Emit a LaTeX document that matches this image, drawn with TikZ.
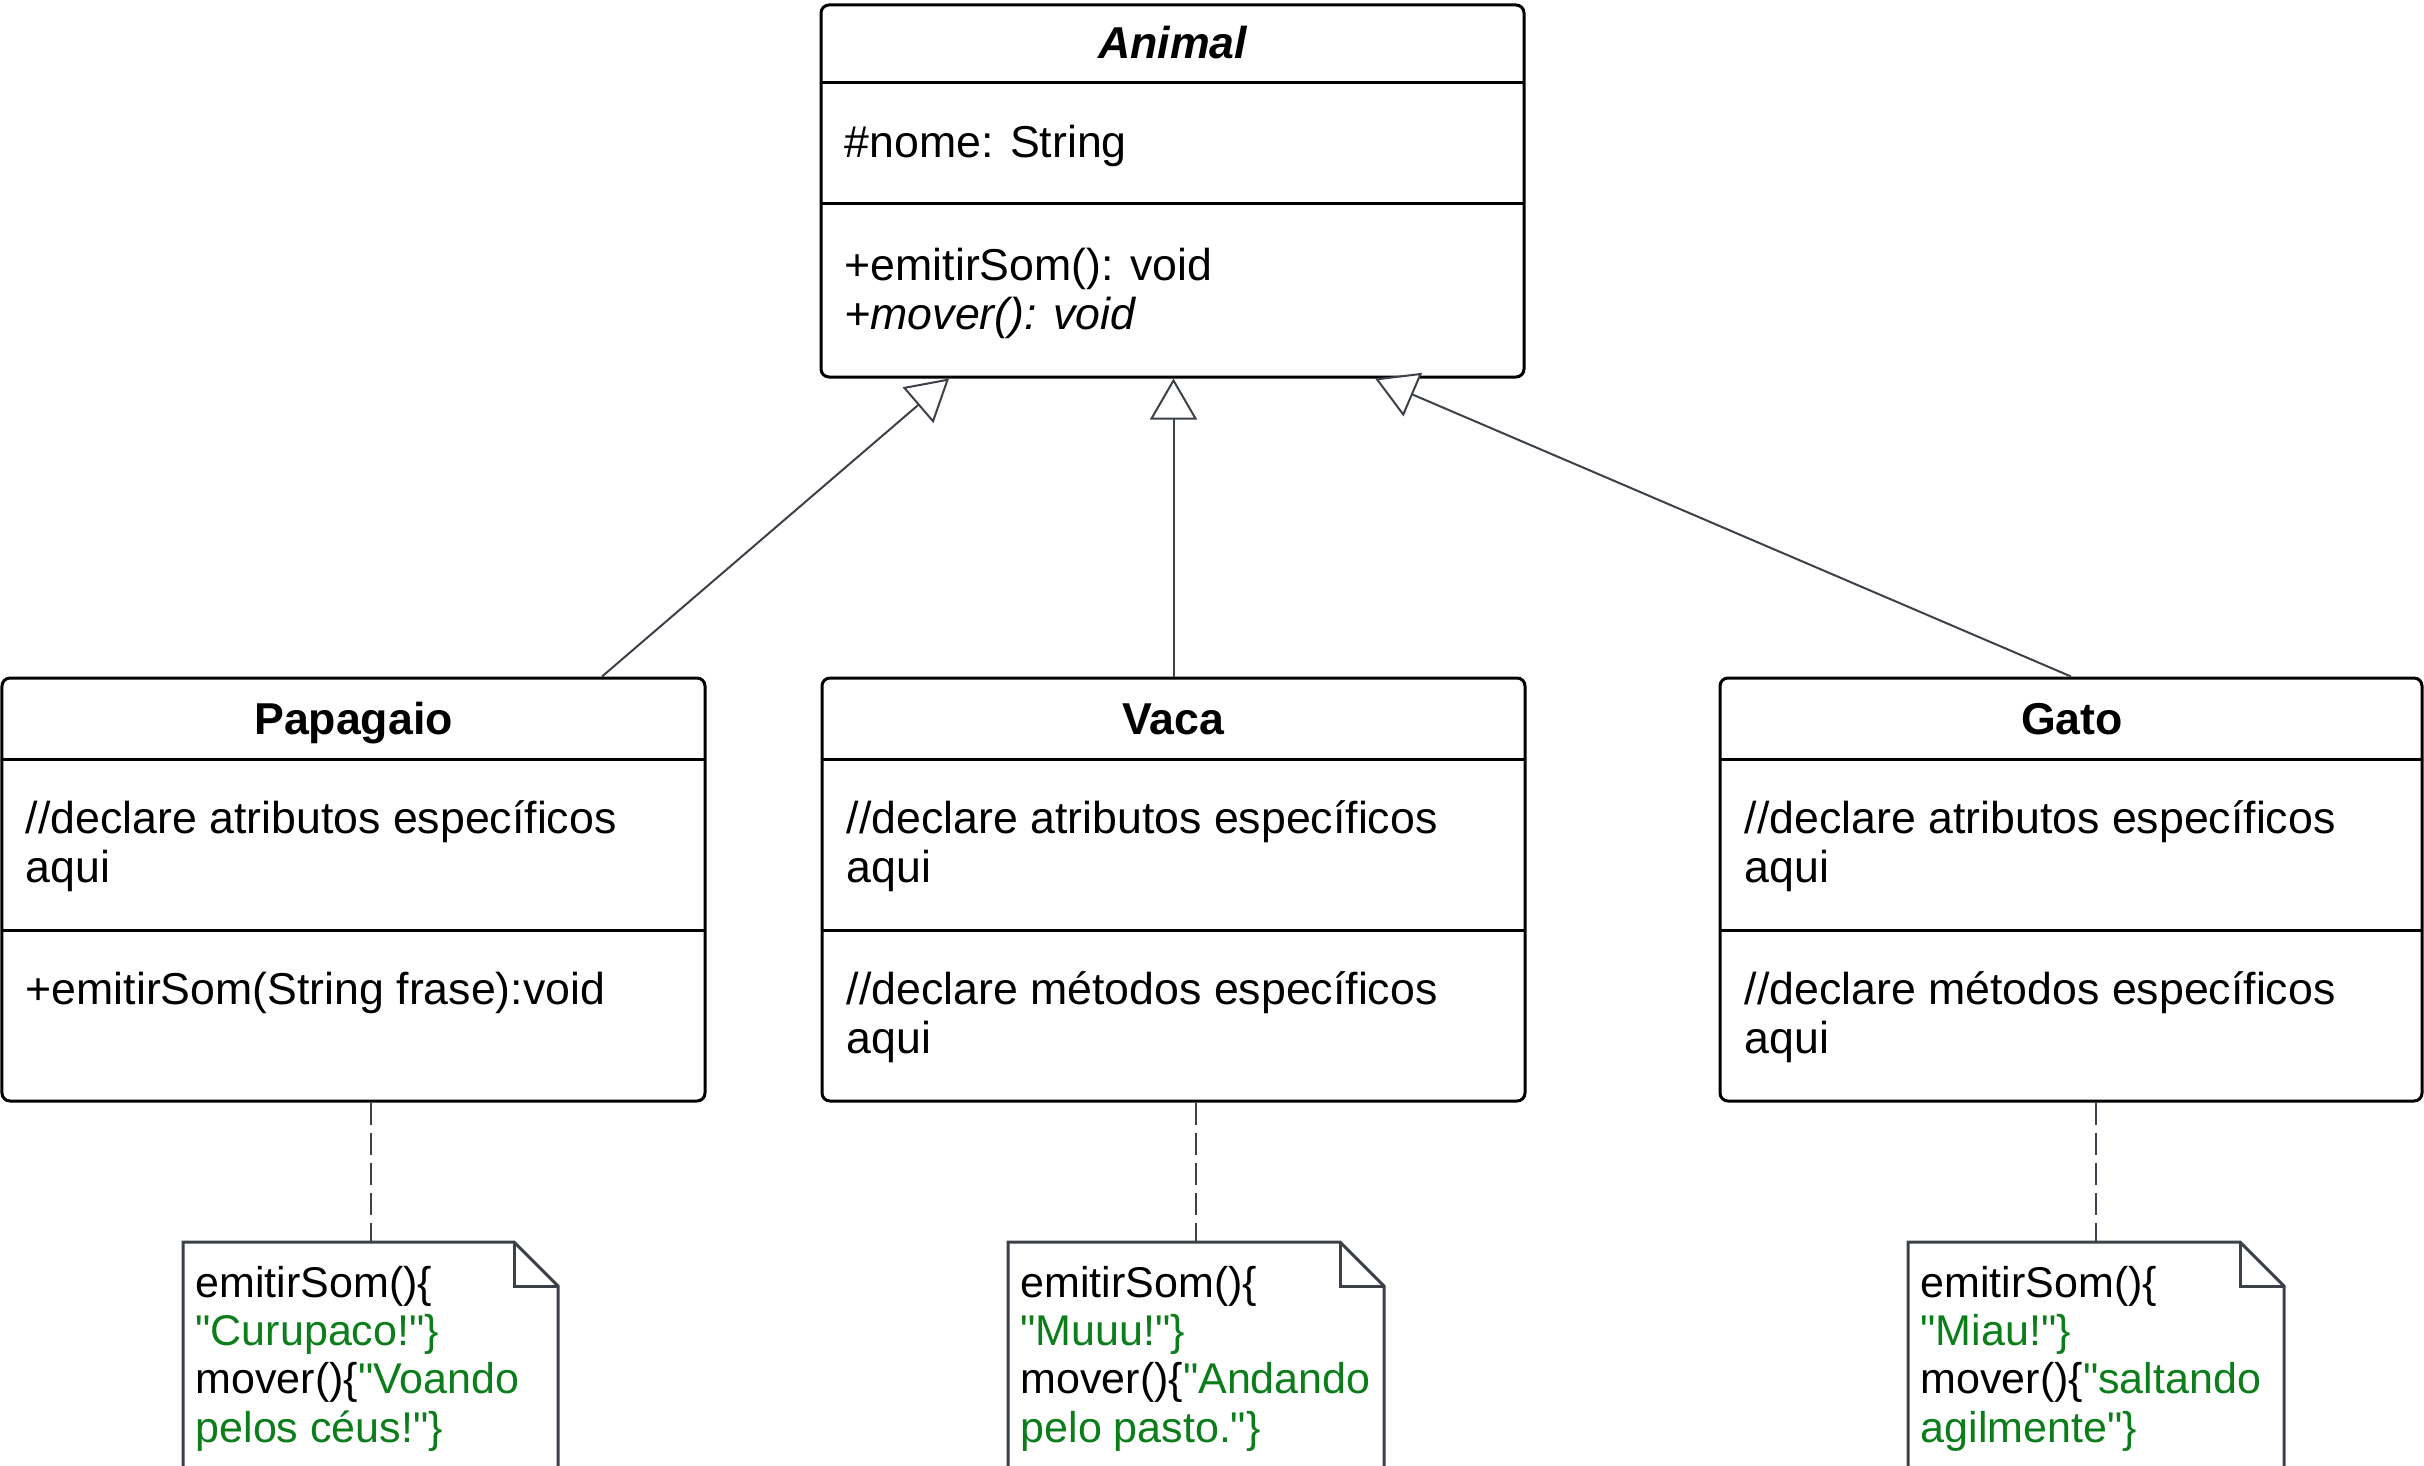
\documentclass[tikz,border=0pt]{standalone}
\usepackage{fontspec}
\setmainfont{Liberation Sans}
\newfontfamily\basefont{Liberation Sans}
\usetikzlibrary{arrows.meta,calc,fit}
\definecolor{linec}{HTML}{3C4048}
\definecolor{codegreen}{HTML}{0B7D1A}
\begin{document}
\begin{tikzpicture}[x=0.3pt,y=-0.3pt,
  classbox/.style={draw=black, line width=0.9pt, rounded corners=2.4pt, inner sep=0pt},
  sepline/.style={draw=black, line width=0.9pt},
  txt/.style={anchor=base west, inner sep=0pt, font=\basefont\fontsize{13.4}{15}\selectfont},
  ttl/.style={anchor=base, inner sep=0pt, font=\basefont\fontsize{13.4}{15}\selectfont\bfseries},
  inh/.style={draw=linec, line width=0.6pt, -{Triangle[length=12.3pt, width=14.1pt, fill=white]}},
  notedash/.style={draw=linec, line width=0.6pt, dash pattern=on 6.6pt off 2.4pt},
  notebox/.style={draw=linec, line width=0.9pt, fill=white, line join=miter},
  ntxt/.style={anchor=base west, inner sep=0pt, font=\basefont\fontsize{12.9}{15}\selectfont}
]
\useasboundingbox (0,0) rectangle (2424,1466);
\clip (0,0) rectangle (2424,1466);

% ---------- Animal ----------
\node[classbox, fit={(821,5) (1524,377)}] (anim) {};
\draw[sepline] (821,83) -- (1524,83);
\draw[sepline] (821,204) -- (1524,204);
\node[ttl, font=\basefont\fontsize{13.4}{15}\selectfont\bfseries\itshape] (animT) at (1172.5,59) {Animal};
\node[txt] (animA1) at (844,158) {\#nome: String};
\node[txt] (animM1) at (844,280) {+emitirSom(): void};
\node[txt, font=\basefont\fontsize{13.4}{15}\selectfont\itshape] (animM2) at (844,330) {+mover(): void};

% ---------- Papagaio ----------
\node[classbox, fit={(2,678) (705,1101)}] (pap) {};
\draw[sepline] (2,759) -- (705,759);
\draw[sepline] (2,930) -- (705,930);
\node[ttl] (papT) at (353.5,734) {Papagaio};
\node[txt] (papA1) at (25,833) {//declare atributos específicos};
\node[txt] (papA2) at (25,882) {aqui};
\node[txt] (papM1) at (25,1004) {+emitirSom(String frase):void};

% ---------- Vaca ----------
\node[classbox, fit={(822,678) (1525,1101)}] (vaca) {};
\draw[sepline] (822,759) -- (1525,759);
\draw[sepline] (822,930) -- (1525,930);
\node[ttl] (vacaT) at (1173.5,734) {Vaca};
\node[txt] (vacaA1) at (846,833) {//declare atributos específicos};
\node[txt] (vacaA2) at (846,882) {aqui};
\node[txt] (vacaM1) at (846,1004) {//declare métodos específicos};
\node[txt] (vacaM2) at (846,1053) {aqui};

% ---------- Gato ----------
\node[classbox, fit={(1720,678) (2422,1101)}] (gato) {};
\draw[sepline] (1720,759) -- (2422,759);
\draw[sepline] (1720,930) -- (2422,930);
\node[ttl] (gatoT) at (2072,734) {Gato};
\node[txt] (gatoA1) at (1744,833) {//declare atributos específicos};
\node[txt] (gatoA2) at (1744,882) {aqui};
\node[txt] (gatoM1) at (1744,1004) {//declare métodos específicos};
\node[txt] (gatoM2) at (1744,1053) {aqui};

% ---------- inheritance ----------
\coordinate (papN) at ($(pap.north west)!0.852!(pap.north east)$);
\coordinate (animP) at ($(anim.south west)!0.1835!(anim.south east)$);
\coordinate (animG) at ($(anim.south west)!0.787!(anim.south east)$);
\draw[inh] (papN) -- (animP);
\draw[inh] (vaca.north) -- (vaca.north |- anim.south);
\draw[inh] (gato.north) -- (animG);

% ---------- notes ----------
\coordinate (n1t) at (371,1242);
\coordinate (n2t) at (1196,1242);
\coordinate (n3t) at (2096,1242);
\draw[notedash] (pap.south -| n1t) -- (n1t);
\draw[notedash] (vaca.south -| n2t) -- (n2t);
\draw[notedash] (gato.south -| n3t) -- (n3t);

\draw[notebox] (183,1242) -- (514,1242) -- (558,1286) -- (558,1500) -- (183,1500) -- cycle;
\draw[notebox, fill=none] (514,1242) -- (514,1286) -- (558,1286);
\draw[notebox] (1008,1242) -- (1340,1242) -- (1384,1286) -- (1384,1500) -- (1008,1500) -- cycle;
\draw[notebox, fill=none] (1340,1242) -- (1340,1286) -- (1384,1286);
\draw[notebox] (1908,1242) -- (2240,1242) -- (2284,1286) -- (2284,1500) -- (1908,1500) -- cycle;
\draw[notebox, fill=none] (2240,1242) -- (2240,1286) -- (2284,1286);

\node[ntxt] (n1l1) at (195,1297) {emitirSom()\{};
\node[ntxt] (n1l2) at (195,1345) {\textcolor{codegreen}{"Curupaco!"\}}};
\node[ntxt] (n1l3) at (195,1393) {mover()\{\textcolor{codegreen}{"Voando}};
\node[ntxt] (n1l4) at (195,1442) {\textcolor{codegreen}{pelos céus!"\}}};

\node[ntxt] (n2l1) at (1020,1297) {emitirSom()\{};
\node[ntxt] (n2l2) at (1020,1345) {\textcolor{codegreen}{"Muuu!"\}}};
\node[ntxt] (n2l3) at (1020,1393) {mover()\{\textcolor{codegreen}{"Andando}};
\node[ntxt] (n2l4) at (1020,1442) {\textcolor{codegreen}{pelo pasto."\}}};

\node[ntxt] (n3l1) at (1920,1297) {emitirSom()\{};
\node[ntxt] (n3l2) at (1920,1345) {\textcolor{codegreen}{"Miau!"\}}};
\node[ntxt] (n3l3) at (1920,1393) {mover()\{\textcolor{codegreen}{"saltando}};
\node[ntxt] (n3l4) at (1920,1442) {\textcolor{codegreen}{agilmente"\}}};
\end{tikzpicture}
\end{document}
